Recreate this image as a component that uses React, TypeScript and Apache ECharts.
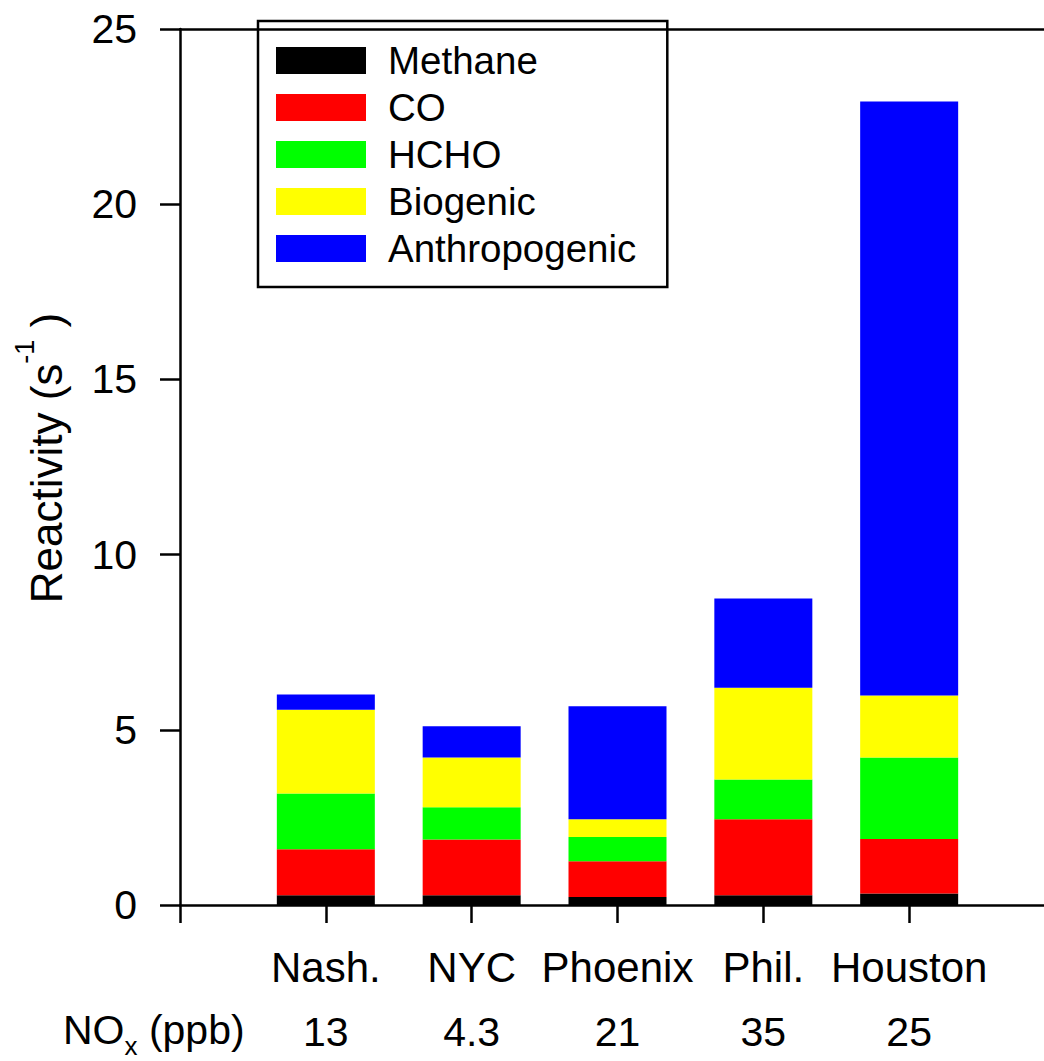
import React, { useEffect, useRef } from 'react';
import * as echarts from 'echarts';

// ---- data ----
const cities = ['Nash.', 'NYC', 'Phoenix', 'Phil.', 'Houston'];
const noxPpb = ['13', '4.3', '21', '35', '25'];
const methane = [0.28, 0.28, 0.23, 0.28, 0.33];
const co = [1.31, 1.59, 1.02, 2.17, 1.55];
const hcho = [1.59, 0.92, 0.69, 1.13, 2.33];
const biogenic = [2.39, 1.42, 0.51, 2.62, 1.77];
const anthropogenic = [0.44, 0.89, 3.22, 2.55, 16.95];
const seriesNames = ['Methane', 'CO', 'HCHO', 'Biogenic', 'Anthropogenic'];
const seriesColors = ['#000000', '#ff0000', '#00ff00', '#ffff00', '#0000ff'];
const yMin = 0;
const yMax = 25;
const yStep = 5;

const FONT = '"Liberation Sans", Arial, Helvetica, sans-serif';

export default function App() {
  const ref = useRef<HTMLDivElement>(null);

  useEffect(() => {
    const chart = echarts.init(ref.current as HTMLDivElement, null, { renderer: 'svg' });
    const axisCats = ['', ...cities, ''];
    const noxCats = ['', ...noxPpb, ''];
    const pad = (a: number[]) => ['-', ...a, '-'];
    const values = [methane, co, hcho, biogenic, anthropogenic];
    const black = '#000000';

    chart.setOption({
      animation: false,
      backgroundColor: '#ffffff',
      textStyle: { fontFamily: FONT, color: black },
      grid: { left: 180, top: 29, bottom: 156, right: 0, containLabel: false },
      legend: {
        orient: 'vertical',
        left: 258,
        top: 21,
        data: seriesNames,
        icon: 'rect',
        itemWidth: 90,
        itemHeight: 27,
        itemGap: 8,
        padding: [20, 31, 19, 18],
        borderColor: black,
        borderWidth: 2.5,
        selectedMode: false,
        textStyle: {
          fontSize: 38.5,
          color: black,
          fontFamily: FONT,
          padding: [0, 0, 0, 17],
        },
      },
      xAxis: [
        {
          type: 'category',
          position: 'bottom',
          data: axisCats,
          boundaryGap: false,
          axisLine: { show: true, onZero: false, lineStyle: { color: black, width: 2.5 } },
          axisTick: { show: true, length: 18, interval: 0, lineStyle: { color: black, width: 2.5 } },
          axisLabel: { show: true, interval: 0, margin: 41, fontSize: 42, color: black, fontFamily: FONT },
          splitLine: { show: false },
        },
        {
          type: 'category',
          position: 'bottom',
          data: noxCats,
          boundaryGap: false,
          axisLine: { show: false, onZero: false },
          axisTick: { show: false },
          axisLabel: { show: true, interval: 0, margin: 106, fontSize: 41, color: black, fontFamily: FONT },
          splitLine: { show: false },
        },
        {
          type: 'category',
          position: 'top',
          data: axisCats,
          boundaryGap: false,
          axisLine: { show: true, onZero: false, lineStyle: { color: black, width: 2.5 } },
          axisTick: { show: false },
          axisLabel: { show: false },
          splitLine: { show: false },
        },
      ],
      yAxis: {
        type: 'value',
        min: yMin,
        max: yMax,
        interval: yStep,
        axisLine: { show: true, lineStyle: { color: black, width: 2.5 } },
        axisTick: { show: true, length: 20, lineStyle: { color: black, width: 2.5 } },
        axisLabel: { margin: 43, fontSize: 41, color: black, fontFamily: FONT },
        splitLine: { show: false },
        name: '{m|Reactivity (s}{sup|-1}{m| )}',
        nameLocation: 'middle',
        nameGap: 99,
        nameTextStyle: {
          color: black,
          fontFamily: FONT,
          padding: [0, 0, 0, 18],
          rich: {
            m: { fontSize: 44, lineHeight: 70, color: black, fontFamily: FONT },
            sup: { fontSize: 27, lineHeight: 27, verticalAlign: 'top', color: black, fontFamily: FONT },
          },
        },
      },
      graphic: [
        {
          type: 'text',
          x: 63,
          y: 1059,
          style: {
            text: '{a|NO}{b|x}{a| (ppb)}',
            align: 'left',
            verticalAlign: 'bottom',
            fill: black,
            rich: {
              a: { fontSize: 41, lineHeight: 58, fontFamily: FONT, color: black },
              b: { fontSize: 26, lineHeight: 26, verticalAlign: 'bottom', fontFamily: FONT, color: black },
            },
          },
        },
      ],
      series: seriesNames.map((name, i) => ({
        type: 'bar',
        name,
        stack: 'total',
        xAxisIndex: 0,
        yAxisIndex: 0,
        barWidth: 98,
        data: pad(values[i]),
        itemStyle: { color: seriesColors[i] },
      })),
    });

    return () => chart.dispose();
  }, []);

  return (
    <div
      style={{ position: 'absolute', left: 0, top: 0, width: 1044, height: 1061, overflow: 'hidden' }}
    >
      <div ref={ref} style={{ width: 1058, height: 1061 }} />
    </div>
  );
}
